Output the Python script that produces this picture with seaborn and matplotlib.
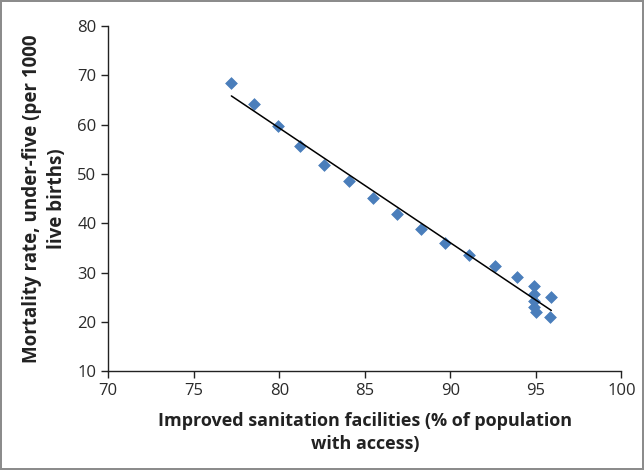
import numpy as np
import pandas as pd
import matplotlib
matplotlib.use('Agg')
import matplotlib.pyplot as plt
import seaborn as sns

# values
sanitation = [77.2, 78.5, 79.9, 81.2, 82.6, 84.1, 85.5, 86.9, 88.3, 89.7,
              91.1, 92.6, 93.9, 94.9, 94.9, 94.9, 94.9, 95.0, 95.9, 95.8]
mortality = [68.4, 64.1, 59.8, 55.7, 51.9, 48.5, 45.1, 41.9, 38.9, 36.0,
             33.6, 31.3, 29.1, 27.3, 25.6, 24.2, 23.0, 22.0, 25.0, 21.1]
x_ticks = [70, 75, 80, 85, 90, 95, 100]
y_ticks = [10, 20, 30, 40, 50, 60, 70, 80]

df = pd.DataFrame({'sanitation': sanitation, 'mortality': mortality})

sns.set_style('white')
plt.rcParams['font.family'] = ['Open Sans', 'DejaVu Sans']

fig = plt.figure(figsize=(6.44, 4.70), dpi=100)
fig.patch.set_edgecolor('#8c8c8c')
fig.patch.set_linewidth(1.5)
ax = fig.add_axes([0.168, 0.21, 0.797, 0.735])

sns.scatterplot(data=df, x='sanitation', y='mortality', ax=ax, marker='D',
                color='#4a7ebb', s=36, edgecolor='#4a7ebb', linewidth=0.5)
sns.regplot(data=df, x='sanitation', y='mortality', ax=ax, scatter=False,
            ci=None, truncate=True, line_kws={'color': 'black', 'linewidth': 1.1})

ax.set_xlim(70, 100)
ax.set_ylim(10, 80)
ax.set_xticks(x_ticks)
ax.set_yticks(y_ticks)
ax.tick_params(axis='both', direction='out', length=5, width=1, labelsize=12,
               colors='#222222', labelcolor='#2a2a2a', bottom=True, left=True)
for side in ['top', 'right']:
    ax.spines[side].set_visible(False)
for side in ['left', 'bottom']:
    ax.spines[side].set_color('#222222')
    ax.spines[side].set_linewidth(1)

ax.set_xlabel('Improved sanitation facilities (% of population\nwith access)',
              fontsize=13, fontweight='bold', color='#222222', labelpad=9,
              linespacing=1.4)
ax.set_ylabel('Mortality rate, under-five (per 1000\nlive births)',
              fontsize=13.5, fontweight='bold', color='#222222', labelpad=7,
              linespacing=1.35)

fig.savefig('out.png', dpi=100, edgecolor=fig.get_edgecolor())
